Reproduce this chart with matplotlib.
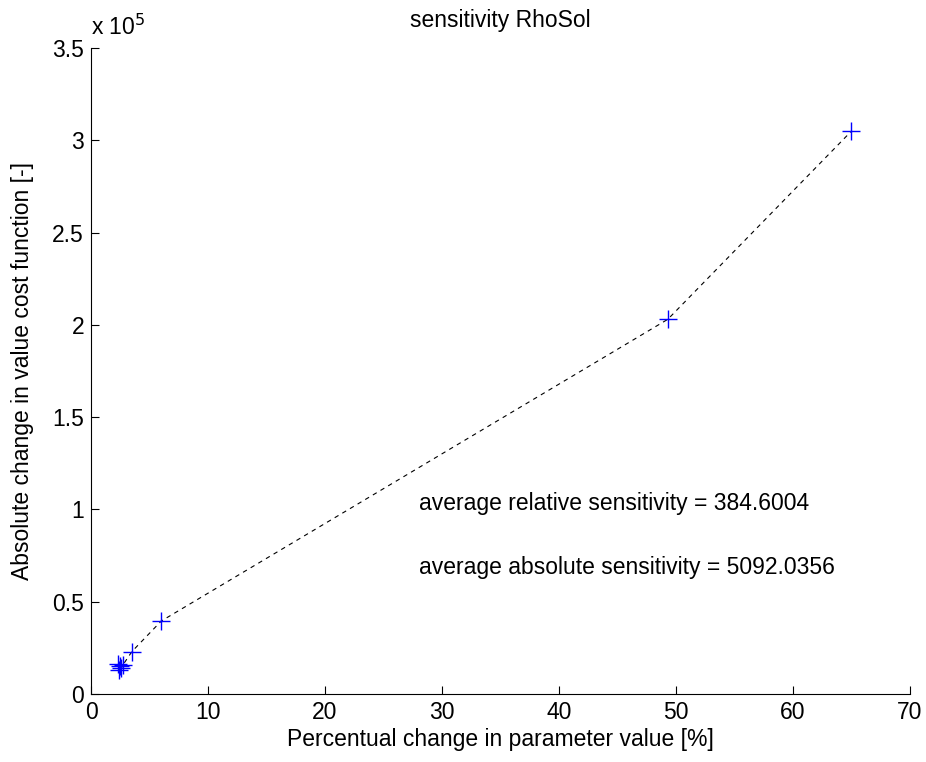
import matplotlib
matplotlib.use('Agg')
import matplotlib.pyplot as plt
import numpy as np

plt.rcParams['font.family'] = ['Liberation Sans', 'DejaVu Sans']

# percentual change in parameter value [%]
pct_change = [2.3, 2.4, 2.5, 2.6, 2.7, 3.5, 6.0, 49.3, 65.0]
# absolute change in cost function value
abs_change = [16000, 13000, 15000, 14000, 15500, 23000, 39500, 203000, 305000]

rel_sens = 384.6004
abs_sens = 5092.0356

fs = 16.5

fig = plt.figure(figsize=(9.26, 7.62), dpi=100)
ax = fig.add_axes([0.0983, 0.0893, 0.8844, 0.8477])

ax.plot(pct_change, abs_change, 'k--', lw=0.8, dashes=(4, 4))
ax.plot(pct_change, abs_change, '+', color='blue', ms=13, mew=1.0)

ax.set_xlim(0, 70)
ax.set_ylim(0, 3.5e5)
ax.set_xticks(np.arange(0, 71, 10))
ax.set_yticks(np.arange(0, 3.51e5, 0.5e5))
ax.set_yticklabels(['0', '0.5', '1', '1.5', '2', '2.5', '3', '3.5'])
ax.tick_params(direction='in', labelsize=fs, length=6, width=0.8, pad=5)
ax.spines['top'].set_visible(False)
ax.spines['right'].set_visible(False)
ax.text(0, 1.012, r'x 10$^5$', transform=ax.transAxes, fontsize=fs,
        va='bottom', ha='left')

ax.set_xlabel('Percentual change in parameter value [%]', fontsize=fs, labelpad=3)
ax.set_ylabel('Absolute change in value cost function [-]', fontsize=fs, labelpad=13)
fig.text(0.0983 + 0.8844 / 2, 1 - 21 / 762, 'sensitivity RhoSol',
         fontsize=fs, ha='center', va='center')

ax.text(28, 1.03e5, 'average relative sensitivity = {:.4f}'.format(rel_sens),
        fontsize=fs, va='center')
ax.text(28, 0.685e5, 'average absolute sensitivity = {:.4f}'.format(abs_sens),
        fontsize=fs, va='center')

fig.savefig('out.png', dpi=100)
